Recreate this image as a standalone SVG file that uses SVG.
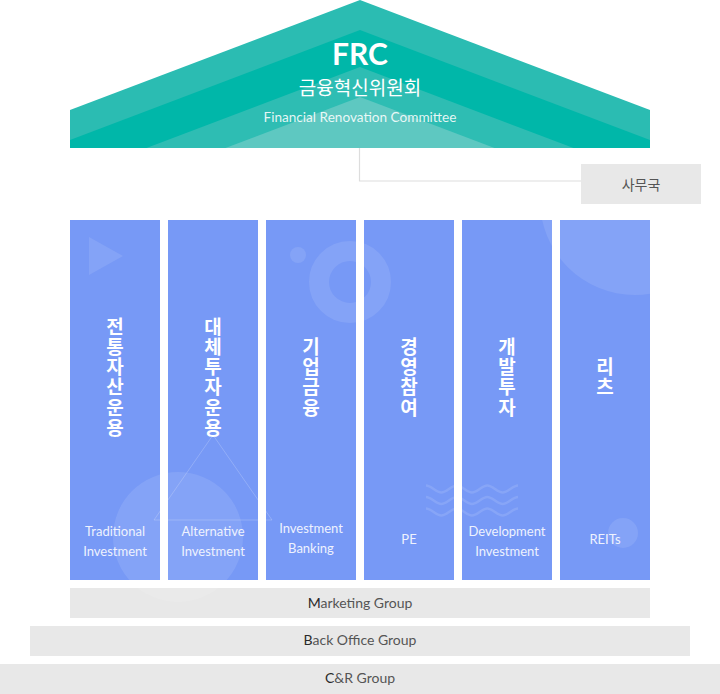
<svg xmlns="http://www.w3.org/2000/svg" width="720" height="694" viewBox="0 0 720 694">
<defs>
<style>
.col{fill:#7799f6}
.ko{font-family:"Noto Sans CJK KR","Noto Sans",sans-serif;font-weight:700;font-size:19px;fill:#ffffff;text-anchor:middle}
.en{font-family:Lato,"Liberation Sans",sans-serif;font-size:13px;fill:#eef2fe;text-anchor:middle}
.deco{fill:#ffffff;fill-opacity:0.1}
.wave{fill:none;stroke:#ffffff;stroke-opacity:0.12;stroke-width:2.6}
.bar{fill:#e8e8e8}
.bt{font-family:Lato,"Liberation Sans",sans-serif;font-size:14px;fill:#555555;text-anchor:middle}
.bt .f{fill:#2a2a2a}
</style>
<clipPath id="colsClip">
<rect x="70" y="220" width="90" height="360"/>
<rect x="168" y="220" width="90" height="360"/>
<rect x="266" y="220" width="90" height="360"/>
<rect x="364" y="220" width="90" height="360"/>
<rect x="462" y="220" width="90" height="360"/>
<rect x="560" y="220" width="90" height="360"/>
</clipPath>
</defs>
<rect width="720" height="694" fill="#ffffff"/>

<g id="connectors">
<polyline points="359.5,148 359.5,181 581,181" fill="none" stroke="#dddddd" stroke-width="1.2"/>
</g>

<g id="frc">
<polygon points="70,110 360,0 650,110 650,148 70,148" fill="#2bbcb2"/>
<polygon points="70,140 360,30 650,140 650,148 70,148" fill="#00b7a9"/>
<polygon points="146.5,148 360,67 573.5,148" fill="#2ebdb3"/>
<polygon points="225.5,148 360,97 494.5,148" fill="#5ec8c1"/>
<text x="360" y="65" font-family="Lato,'Liberation Sans',sans-serif" font-weight="700" font-size="30" fill="#ffffff" text-anchor="middle">FRC</text>
<text x="360" y="95" font-family="'Noto Sans CJK KR','Noto Sans',sans-serif" font-size="19" fill="#ffffff" text-anchor="middle">금융혁신위원회</text>
<text x="360" y="121.5" font-family="Lato,'Liberation Sans',sans-serif" font-size="13.6" fill="#ffffff" fill-opacity="0.88" text-anchor="middle">Financial Renovation Committee</text>
</g>

<g id="secretariat">
<rect x="581" y="164" width="120" height="40" fill="#e8e8e8"/>
<text x="641" y="190" font-family="'Noto Sans CJK KR','Noto Sans',sans-serif" font-size="14" fill="#555555" text-anchor="middle">사무국</text>
</g>

<g id="columns-bg">
<rect class="col" x="70" y="220" width="90" height="360"/>
<rect class="col" x="168" y="220" width="90" height="360"/>
<rect class="col" x="266" y="220" width="90" height="360"/>
<rect class="col" x="364" y="220" width="90" height="360"/>
<rect class="col" x="462" y="220" width="90" height="360"/>
<rect class="col" x="560" y="220" width="90" height="360"/>
</g>

<g id="marketing">
<rect class="bar" x="70" y="588" width="580" height="30"/>
<text class="bt" x="360" y="607.5"><tspan class="f">M</tspan>arketing Group</text>
</g>
<g id="backoffice">
<rect class="bar" x="30" y="626" width="660" height="30"/>
<text class="bt" x="360" y="645"><tspan class="f">B</tspan>ack Office Group</text>
</g>
<g id="cr">
<rect class="bar" x="0" y="664" width="720" height="30"/>
<text class="bt" x="360" y="682.5"><tspan class="f">C</tspan>&amp;R Group</text>
</g>

<g id="decorations">
<g clip-path="url(#colsClip)">
<polygon class="deco" points="89,237 123,256 89,275"/>
<circle class="deco" cx="298" cy="255" r="8"/>
<circle cx="350" cy="282" r="31" fill="none" stroke="#ffffff" stroke-opacity="0.1" stroke-width="20"/>
<circle class="deco" cx="635" cy="200" r="95"/>
<circle class="deco" cx="623" cy="533" r="15"/>
<polygon points="213,435 272,520 154,520" fill="none" stroke="#ffffff" stroke-opacity="0.2" stroke-width="1"/>
<path class="wave" d="M426,485.5 C431,485.5 436.3,492.5 441.3,492.5 C446.3,492.5 451.7,485.5 456.7,485.5 C461.7,485.5 467,492.5 472,492.5 C477,492.5 482.3,485.5 487.3,485.5 C492.3,485.5 497.7,492.5 502.7,492.5 C507.7,492.5 513,485.5 518,485.5"/>
<path class="wave" d="M426,497 C431,497 436.3,504 441.3,504 C446.3,504 451.7,497 456.7,497 C461.7,497 467,504 472,504 C477,504 482.3,497 487.3,497 C492.3,497 497.7,504 502.7,504 C507.7,504 513,497 518,497"/>
<path class="wave" d="M426,508.5 C431,508.5 436.3,515.5 441.3,515.5 C446.3,515.5 451.7,508.5 456.7,508.5 C461.7,508.5 467,515.5 472,515.5 C477,515.5 482.3,508.5 487.3,508.5 C492.3,508.5 497.7,515.5 502.7,515.5 C507.7,515.5 513,508.5 518,508.5"/>
</g>
<circle class="deco" cx="178" cy="537" r="65"/>
</g>

<g id="col1">
<text class="ko"><tspan x="115" y="333.5">전</tspan><tspan x="115" y="353.8">통</tspan><tspan x="115" y="374.1">자</tspan><tspan x="115" y="394.4">산</tspan><tspan x="115" y="414.7">운</tspan><tspan x="115" y="435">용</tspan></text>
<text class="en"><tspan x="115" y="536">Traditional</tspan><tspan x="115" y="556">Investment</tspan></text>
</g>
<g id="col2">
<text class="ko"><tspan x="213" y="333.5">대</tspan><tspan x="213" y="353.8">체</tspan><tspan x="213" y="374.1">투</tspan><tspan x="213" y="394.4">자</tspan><tspan x="213" y="414.7">운</tspan><tspan x="213" y="435">용</tspan></text>
<text class="en"><tspan x="213" y="536">Alternative</tspan><tspan x="213" y="556">Investment</tspan></text>
</g>
<g id="col3">
<text class="ko"><tspan x="311" y="353.8">기</tspan><tspan x="311" y="374.1">업</tspan><tspan x="311" y="394.4">금</tspan><tspan x="311" y="414.7">융</tspan></text>
<text class="en"><tspan x="311" y="533">Investment</tspan><tspan x="311" y="553">Banking</tspan></text>
</g>
<g id="col4">
<text class="ko"><tspan x="409" y="353.8">경</tspan><tspan x="409" y="374.1">영</tspan><tspan x="409" y="394.4">참</tspan><tspan x="409" y="414.7">여</tspan></text>
<text class="en" x="409" y="544">PE</text>
</g>
<g id="col5">
<text class="ko"><tspan x="507" y="353.8">개</tspan><tspan x="507" y="374.1">발</tspan><tspan x="507" y="394.4">투</tspan><tspan x="507" y="414.7">자</tspan></text>
<text class="en"><tspan x="507" y="536">Development</tspan><tspan x="507" y="556">Investment</tspan></text>
</g>
<g id="col6">
<text class="ko"><tspan x="605" y="374.1">리</tspan><tspan x="605" y="394.4">츠</tspan></text>
<text class="en" x="605" y="544">REITs</text>
</g>
</svg>
